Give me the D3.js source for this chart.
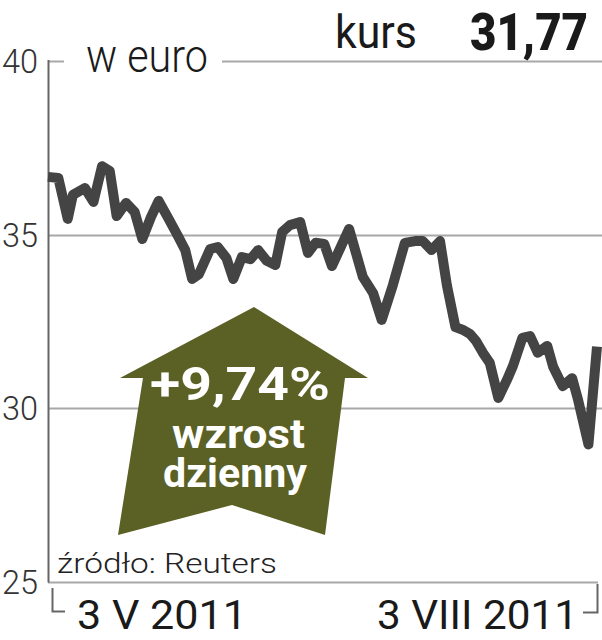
<!DOCTYPE html>
<html>
<head>
<meta charset="utf-8">
<script src="https://cdn.jsdelivr.net/npm/d3@7"></script>
<style>
  html, body { margin: 0; padding: 0; background: #fff; }
  svg { display: block; }
</style>
</head>
<body>
<div id="chart"></div>
<script>
// ---- data ----
const sessions = [0,1.2,2.3,2.9,4.3,5.3,6.3,7.2,8.0,9.1,10.1,11.0,12.0,12.9,14.0,15.2,16.0,16.8,17.6,18.9,19.8,20.8,21.6,22.6,23.6,24.5,25.5,26.5,27.3,28.2,29.4,30.3,31.2,32.2,33.1,35.1,36.7,37.9,38.9,40.2,41.6,42.8,43.7,44.7,45.7,46.5,47.5,48.4,49.2,49.9,50.7,51.5,52.5,53.5,54.2,55.3,56.2,57.1,58.2,58.9,60.0,61.1,61.8,63.0,64.0];
const prices = [36.66,36.63,35.45,36.14,36.34,35.94,36.97,36.83,35.53,35.91,35.65,34.87,35.50,35.97,35.48,34.93,34.55,33.72,33.86,34.58,34.64,34.32,33.72,34.35,34.29,34.55,34.24,34.12,35.07,35.27,35.36,34.47,34.76,34.73,34.09,35.16,33.78,33.31,32.54,33.54,34.76,34.81,34.81,34.55,34.81,33.54,32.33,32.25,32.13,31.93,31.59,31.30,30.29,30.81,31.21,32.02,32.07,31.59,31.79,31.18,30.63,30.86,30.23,28.95,31.77];
const yTicks = [25, 30, 35, 40];
const xLabels = ["3 V 2011", "3 VIII 2011"];
const unitLabel = "w euro";
const priceLabel = "kurs";
const lastPrice = "31,77";
const changeLines = ["+9,74%", "wzrost", "dzienny"];
const sourceLabel = "źródło: Reuters";

// ---- chart ----
const W = 602, H = 640;
const svg = d3.select("#chart").append("svg").attr("width", W).attr("height", H);

const x = d3.scaleLinear().domain([0, 64]).range([48, 597]);
const y = d3.scaleLinear().domain([25, 40]).range([581.5, 61]);

const gridColor = "#a8a8a8";
const axisColor = "#666";
const font = "Roboto, 'Open Sans', sans-serif";

// gridlines
yTicks.forEach(t => {
  const yy = Math.round(y(t)) + 0.5;
  if (t === 40) {
    svg.append("line").attr("x1", 48).attr("x2", 64).attr("y1", yy).attr("y2", yy)
      .attr("stroke", gridColor).attr("stroke-width", 2);
    svg.append("line").attr("x1", 222).attr("x2", 602).attr("y1", yy).attr("y2", yy)
      .attr("stroke", gridColor).attr("stroke-width", 2);
  } else if (t === 25) {
    svg.append("line").attr("x1", 48).attr("x2", 598).attr("y1", yy).attr("y2", yy)
      .attr("stroke", gridColor).attr("stroke-width", 2);
  } else {
    svg.append("line").attr("x1", 48).attr("x2", 602).attr("y1", yy).attr("y2", yy)
      .attr("stroke", gridColor).attr("stroke-width", 2);
  }
  svg.append("text").attr("x", 2).attr("y", y(t) + 12)
    .attr("font-family", font).attr("font-weight", 300).attr("font-size", 34)
    .attr("fill", "#333").attr("textLength", 36).attr("lengthAdjust", "spacingAndGlyphs")
    .text(t);
});

// y axis line
svg.append("line").attr("x1", 48.5).attr("x2", 48.5).attr("y1", y(40) - 1).attr("y2", y(25) + 1)
  .attr("stroke", axisColor).attr("stroke-width", 2);

// brackets at bottom
svg.append("path").attr("d", "M52.5,588 V611.5 H65")
  .attr("fill", "none").attr("stroke", axisColor).attr("stroke-width", 2);
svg.append("path").attr("d", "M597.5,584 V612.5 H583")
  .attr("fill", "none").attr("stroke", axisColor).attr("stroke-width", 2);

// x labels
svg.append("text").attr("x", 77).attr("y", 629)
  .attr("font-family", font).attr("font-size", 41).attr("fill", "#1a1a1a")
  .attr("textLength", 170).attr("lengthAdjust", "spacingAndGlyphs").text(xLabels[0]);
svg.append("text").attr("x", 377).attr("y", 629)
  .attr("font-family", font).attr("font-size", 41).attr("fill", "#1a1a1a")
  .attr("textLength", 201).attr("lengthAdjust", "spacingAndGlyphs").text(xLabels[1]);

// header texts
svg.append("text").attr("x", 86).attr("y", 72)
  .attr("font-family", font).attr("font-weight", 300).attr("font-size", 46).attr("fill", "#1a1a1a")
  .attr("textLength", 122).attr("lengthAdjust", "spacingAndGlyphs").text(unitLabel);
svg.append("text").attr("x", 335).attr("y", 48)
  .attr("font-family", font).attr("font-weight", 400).attr("font-size", 46).attr("fill", "#1a1a1a")
  .attr("textLength", 82).attr("lengthAdjust", "spacingAndGlyphs").text(priceLabel);
svg.append("text").attr("x", 470).attr("y", 50)
  .attr("font-family", font).attr("font-weight", 900).attr("font-size", 51).attr("fill", "#1a1a1a")
  .attr("textLength", 118).attr("lengthAdjust", "spacingAndGlyphs").text(lastPrice);

// source
svg.append("text").attr("x", 57).attr("y", 573)
  .attr("font-family", font).attr("font-weight", 300).attr("font-size", 28).attr("fill", "#222")
  .attr("textLength", 220).attr("lengthAdjust", "spacingAndGlyphs").text(sourceLabel);

// price line
const line = d3.line().x((d, i) => x(sessions[i])).y(d => y(d));
svg.append("path").datum(prices)
  .attr("d", line)
  .attr("fill", "none").attr("stroke", "#444").attr("stroke-width", 10)
  .attr("stroke-linejoin", "round").attr("stroke-linecap", "butt");

// arrow badge
const arrowPts = [[254,307],[368,378],[345,378],[325,535],[232,505],[118,535],[143,378],[120,378]];
svg.append("polygon").attr("points", arrowPts.map(p => p.join(",")).join(" "))
  .attr("fill", "#5b6024");
const arrowText = [
  {t: changeLines[0], y: 400, size: 46, w: 180, cx: 240},
  {t: changeLines[1], y: 448, size: 41, w: 133, cx: 238.5},
  {t: changeLines[2], y: 487, size: 41, w: 144, cx: 235}
];
arrowText.forEach(a => {
  svg.append("text").attr("x", a.cx - a.w / 2).attr("y", a.y)
    .attr("font-family", font).attr("font-weight", 700).attr("font-size", a.size)
    .attr("fill", "#fff").attr("textLength", a.w).attr("lengthAdjust", "spacingAndGlyphs")
    .text(a.t);
});
</script>
</body>
</html>
